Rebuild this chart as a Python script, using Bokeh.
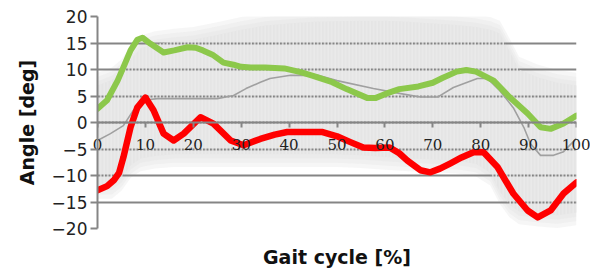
import numpy as np
from bokeh.plotting import figure
from bokeh.models import Range1d, FixedTicker, LinearAxis
from bokeh.embed import file_html
from bokeh.resources import INLINE

# ---- data ----
x_ticks = [0, 10, 20, 30, 40, 50, 60, 70, 80, 90, 100]
y_ticks = [-20, -15, -10, -5, 0, 5, 10, 15, 20]
x_axis_crossing = 0

# normal band (shaded area)
band_x = [0, 3, 5, 7, 9, 12, 16, 20, 25, 30, 35, 40, 45, 50, 55, 60, 65, 70, 75, 79, 82, 84, 86, 88, 92, 96, 100]
band_upper = [7, 8, 9.5, 12, 14, 14.8, 15.3, 15.6, 16.5, 17.5, 18.3, 18.7, 19, 19.1, 19.2, 19.2, 19, 18.7, 18.4, 18, 17.5, 16.8, 13.5, 10, 8.5, 7.5, 7]
band_lower = [-12, -12, -10.5, -8, -6.8, -6.3, -6, -6, -6, -6, -6, -6, -6, -6, -6.2, -6.5, -6.8, -7, -7.2, -7.8, -9.5, -13, -15.5, -16.8, -17.2, -17.5, -17]

# normal mean (thin grey line)
mean_x = [0, 2.7, 5.4, 7.5, 9.6, 12.5, 25, 28.4, 31, 34, 36, 40.3, 46, 50, 57.6, 63, 67.4, 71, 74.3, 79.3, 81.4, 84, 86.8, 89, 90.4, 92.5, 95.2, 97.3, 100]
mean_y = [-3.4, -2.1, -0.6, 2.3, 4.2, 4.5, 4.5, 5.1, 6.4, 7.6, 8.3, 8.9, 8.9, 7.9, 6.4, 5.5, 4.8, 4.8, 6.6, 8.3, 8.3, 6.0, 2.8, -0.9, -4.0, -6.2, -6.2, -5.5, -3.0]

# green curve
green_x = [0, 2, 4.2, 5.4, 6.9, 8.3, 9.4, 11, 13.8, 16, 18.8, 20.5, 22, 24, 26.3, 28.4, 30, 32, 35, 39, 42.4, 45, 49, 52, 56.4, 58, 61, 63, 67, 70, 72, 75, 77, 79, 82.7, 86, 89.8, 92.5, 94.6, 97.3, 100]
green_y = [2.6, 4.2, 7.9, 10.4, 13.6, 15.6, 16, 14.9, 13.2, 13.6, 14.2, 14.1, 13.6, 12.8, 11.3, 10.9, 10.5, 10.4, 10.4, 10.2, 9.5, 8.8, 7.6, 6.3, 4.6, 4.6, 5.7, 6.3, 6.8, 7.5, 8.4, 9.6, 9.9, 9.6, 7.9, 4.8, 1.7, -0.9, -1.2, -0.2, 1.3]

# red curve
red_x = [0, 2, 3.4, 4.5, 5.4, 6.9, 8.3, 10, 11.7, 13.8, 15.9, 18, 21.5, 24.2, 27.8, 30.5, 34, 37, 39.6, 43, 47, 50, 52.8, 55.5, 58, 61, 63, 64.7, 67.4, 69.5, 71.5, 73.7, 76, 78.5, 80.6, 83.5, 86.8, 89.8, 91.9, 94.6, 97.3, 100]
red_y = [-12.8, -12, -10.9, -9.5, -6.6, -0.9, 2.8, 4.7, 2.3, -2.1, -3.4, -2.1, 1.0, -0.2, -3.4, -4.3, -3.1, -2.3, -1.8, -1.8, -1.8, -2.6, -3.7, -4.7, -4.8, -4.7, -5.8, -7.2, -9.0, -9.4, -8.7, -7.7, -6.6, -5.6, -5.6, -8.4, -13.4, -16.6, -17.9, -16.6, -13.4, -11.3]

# ---- figure ----
p = figure(width=590, height=271, output_backend="svg", toolbar_location=None,
           x_range=Range1d(0, 100), y_range=Range1d(-20, 20),
           min_border_left=97, min_border_right=14, min_border_top=16, min_border_bottom=43,
           background_fill_color="white", border_fill_color="white")
p.outline_line_color = None

GRID = "#858585"

# soft-edged shaded band
bu = np.array(band_upper, dtype=float)
bl = np.array(band_lower, dtype=float)
for off in (2.4, 1.6, 0.8):
    p.varea(x=band_x, y1=bl - off, y2=bu + off, fill_color="#e2e2e2", fill_alpha=0.3, level="image")
p.varea(x=band_x, y1=bl, y2=bu, fill_color="#e5e5e5", fill_alpha=1.0, level="image")
# fine vertical hatch over the band (cuts the grid into dashes)
p.varea(x=band_x, y1=bl, y2=bu, fill_alpha=0, hatch_pattern="|", hatch_color="#ebebeb",
        hatch_scale=3.5, hatch_weight=1.3)

p.line(mean_x, mean_y, line_color="#a0a0a0", line_width=1.6, line_join="round")
p.line(green_x, green_y, line_color="#8cc84b", line_width=6, line_join="round", line_cap="round")
p.line(red_x, red_y, line_color="#ff0000", line_width=6.5, line_join="round", line_cap="round")

# grid
p.xgrid.visible = False
p.ygrid.ticker = FixedTicker(ticks=y_ticks)
p.ygrid.grid_line_color = GRID
p.ygrid.grid_line_width = 2

# y axis
yax = p.yaxis[0]
yax.ticker = FixedTicker(ticks=y_ticks)
yax.axis_label = "Angle [deg]"
yax.axis_label_text_font = "DejaVu Sans"
yax.axis_label_text_font_size = "19px"
yax.axis_label_text_font_style = "bold"
yax.axis_label_text_color = "#111111"
yax.axis_label_standoff = 11
yax.major_label_text_font = "DejaVu Sans"
yax.major_label_text_font_size = "17px"
yax.major_label_text_color = "#222222"
yax.major_label_standoff = 3
yax.major_tick_out = 7
yax.major_tick_in = 0
yax.minor_tick_out = 0
yax.minor_tick_in = 0
yax.major_tick_line_color = GRID
yax.major_tick_line_width = 2
yax.axis_line_color = GRID
yax.axis_line_width = 2

# x axis line + tick marks crossing at y = 0
xax = p.xaxis[0]
xax.fixed_location = x_axis_crossing
xax.ticker = FixedTicker(ticks=x_ticks)
xax.major_label_text_alpha = 0
xax.major_tick_out = 5
xax.major_tick_in = 0
xax.minor_tick_out = 0
xax.minor_tick_in = 0
xax.major_tick_line_color = GRID
xax.major_tick_line_width = 2
xax.axis_line_color = GRID
xax.axis_line_width = 2

# second (unclipped) x axis below: carries tick labels (pulled up under the y=0 axis) and the title
lab_ax = LinearAxis(ticker=FixedTicker(ticks=x_ticks),
                    axis_line_color=None, major_tick_line_color=None, minor_tick_line_color=None,
                    major_tick_out=0, major_tick_in=0, minor_tick_out=0, minor_tick_in=0,
                    major_label_standoff=-90,
                    major_label_text_font="DejaVu Serif", major_label_text_font_size="15px",
                    major_label_text_color="#222222",
                    axis_label="Gait cycle [%]", axis_label_standoff=93,
                    axis_label_text_font="DejaVu Sans", axis_label_text_font_size="19px",
                    axis_label_text_font_style="bold", axis_label_text_color="#111111")
p.add_layout(lab_ax, "below")

open("out.html", "w").write(file_html(p, INLINE))
